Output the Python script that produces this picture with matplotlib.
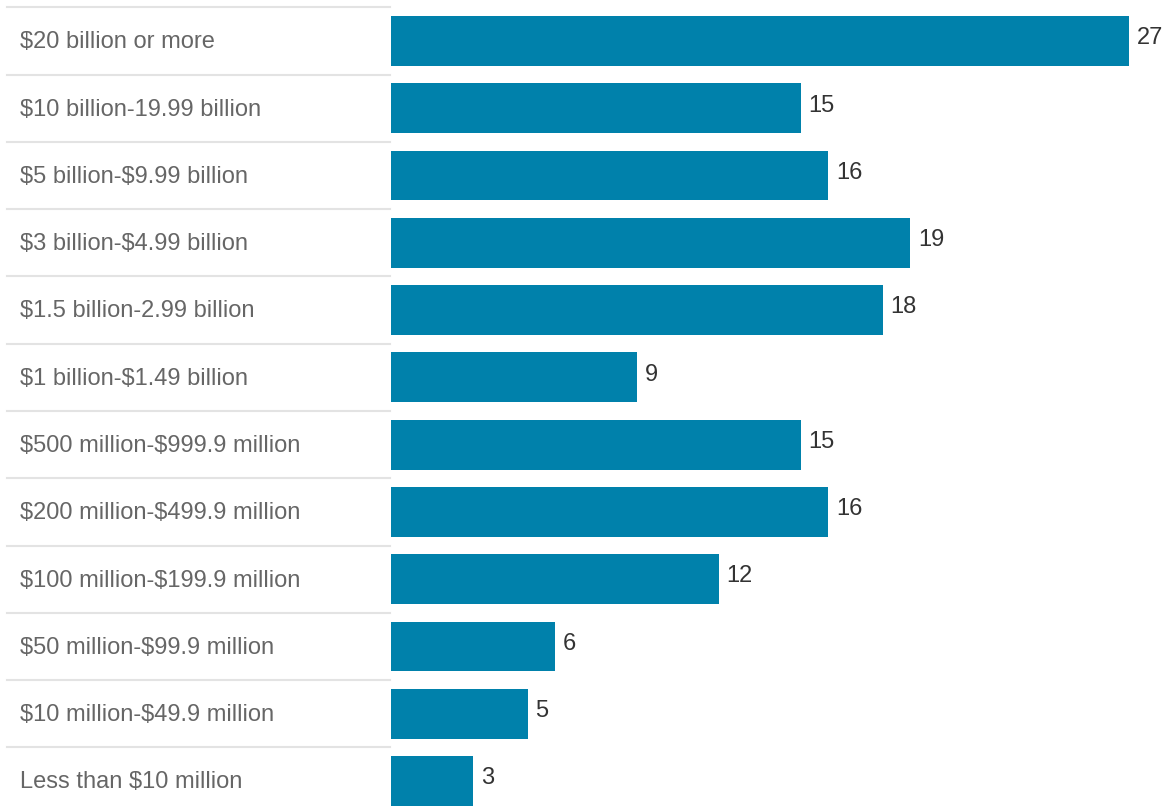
import matplotlib.pyplot as plt

categories = ['$20 billion or more', '$10 billion-19.99 billion', '$5 billion-$9.99 billion',
              '$3 billion-$4.99 billion', '$1.5 billion-2.99 billion', '$1 billion-$1.49 billion',
              '$500 million-$999.9 million', '$200 million-$499.9 million',
              '$100 million-$199.9 million', '$50 million-$99.9 million',
              '$10 million-$49.9 million', 'Less than $10 million']
counts = [27, 15, 16, 19, 18, 9, 15, 16, 12, 6, 5, 3]

plt.rcParams['font.family'] = ['Liberation Sans', 'DejaVu Sans']
plt.rcParams['text.parse_math'] = False

W, H = 1167, 811
fig = plt.figure(figsize=(W / 100, H / 100), dpi=100)
left_px = 391
ax = fig.add_axes([left_px / W, 0, 1 - left_px / W, 1])

pitch = 67.27
ypos = list(range(len(categories)))
ax.barh(ypos, counts, height=0.74, color='#0081ab')

scale = 738 / 27
ax.set_xlim(0, (W - left_px) / scale)
ax.set_ylim(11 + (H - 781) / pitch, -0.5 - 7.4 / pitch)

# value labels just right of the bars
for y, v in zip(ypos, counts):
    ax.annotate(str(v), (v, y), xytext=(5.5, 2), textcoords='offset points',
                ha='left', va='center', fontsize=17, color='#333333')

# category labels and row separators on the left
width_px = W - left_px
x0 = -(left_px - 7) / width_px
x1 = -1 / width_px
tr = ax.get_yaxis_transform()
for y, lab in zip(ypos, categories):
    ax.plot([x0, x1], [y - 0.5, y - 0.5], transform=tr, color='#e3e3e3',
            lw=1.5, clip_on=False)
    ax.text(-(left_px - 20) / width_px, y + 0.02, lab, transform=tr, ha='left',
            va='center', fontsize=17, color='#666666')

ax.axis('off')
fig.savefig('out.png', dpi=100)
